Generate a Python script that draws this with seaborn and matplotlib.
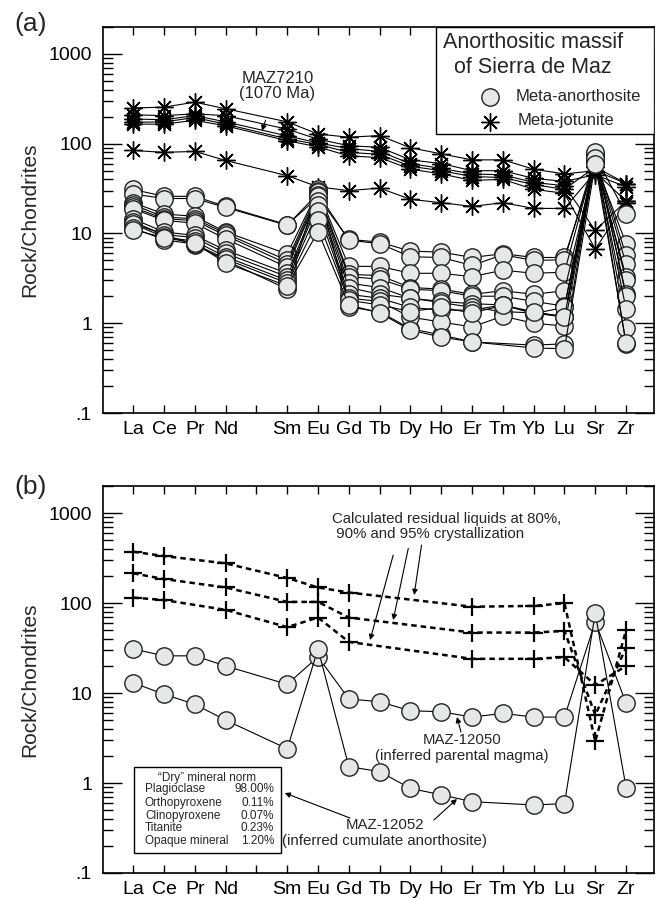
import numpy as np
import pandas as pd
import matplotlib
matplotlib.use('Agg')
import matplotlib.pyplot as plt
from matplotlib.patches import Rectangle
from matplotlib.ticker import FixedLocator, FuncFormatter, LogLocator, NullFormatter
import seaborn as sns

# x positions: Pm slot is left empty
elements = ['La', 'Ce', 'Pr', 'Nd', '', 'Sm', 'Eu', 'Gd', 'Tb', 'Dy', 'Ho', 'Er', 'Tm', 'Yb', 'Lu', 'Sr', 'Zr']
rock_elements = ['La', 'Ce', 'Pr', 'Nd', 'Sm', 'Eu', 'Gd', 'Tb', 'Dy', 'Ho', 'Er', 'Tm', 'Yb', 'Lu', 'Sr', 'Zr']
liquid_elements = ['La', 'Ce', 'Nd', 'Sm', 'Eu', 'Gd', 'Er', 'Yb', 'Lu', 'Sr', 'Zr']
nan = np.nan

# chondrite-normalised values
maz12050 = [30.9, 25.9, 25.9, 20.0, 12.5, 25.3, 8.6, 8.0, 6.35, 6.2, 5.4, 5.95, 5.4, 5.4, 62, 7.7]
maz12052 = [13.0, 9.7, 7.5, 5.0, 2.4, 31.0, 1.52, 1.34, 0.87, 0.74, 0.62, nan, 0.57, 0.59, 77, 0.89]

anorthosite = {
    'an02': [27.5, 24.5, 24.5, 19.5, 12.3, 28, 8.4, 7.7, 5.5, 5.4, 4.4, 5.8, 5.0, 5.1, 72, 16.6],
    'an03': [22.0, 16.5, 15.5, 10.4, 5.9, 30, 4.3, 4.3, 3.6, 3.6, 3.3, 3.9, 3.6, 3.7, 70, 5.7],
    'an04': [21.0, 15.2, 14.6, 10.0, 5.0, 29, 3.5, 3.4, 2.5, 2.4, 2.1, 2.3, 2.1, 2.3, 66, 4.6],
    'an05': [19.6, 14.6, 13.9, 9.5, 4.6, 27, 3.3, 3.1, 2.4, 2.3, 2.0, 2.0, 1.75, 1.55, 64, 3.3],
    'an06': [18.8, 14.0, 13.0, 8.7, 4.2, 26, 2.8, 2.5, 1.9, 1.75, 1.65, 1.6, 1.3, 1.2, 68, 3.0],
    'an07': [14.5, 10.4, 9.5, 6.5, 3.6, 23, 2.5, 2.1, 1.9, 1.7, 1.5, 1.35, 1.3, 1.17, 74, 2.1],
    'an08': [13.4, 9.7, 9.0, 6.0, 3.3, 21, 2.1, 1.9, 1.5, 1.4, 1.4, 1.6, 1.28, 1.5, 80, 2.0],
    'an09': [12.8, 9.1, 8.2, 5.5, 3.0, 18, 1.9, 1.75, 1.17, 1.03, 0.91, 1.2, 1.0, 0.93, 65, 1.45],
    'an11': [11.5, 8.5, 7.6, 5.2, 2.8, 14, 1.8, 1.6, 1.35, 1.5, 1.3, 1.58, 1.35, 1.17, 70, 0.59],
    'an12': [11.0, 9.0, 7.8, 4.7, 2.6, 10.5, 1.6, 1.3, 0.84, 0.70, 0.62, nan, 0.53, 0.52, 60, 0.6],
    'MAZ-12050': maz12050,
    'MAZ-12052': maz12052,
}

jotunite = {
    'jo1': [250, 255, 290, 245, 175, 128, 118, 123, 90, 77, 66, 66, 52, 46, 50, 36],
    'jo2': [210, 205, 215, 205, 145, 112, 95, 91, 66, 60, 50, 50, 41, 38, 45, 33],
    'jo3': [188, 185, 205, 175, 122, 102, 88, 82, 60, 53, 46, 45, 37, 34, 10.8, 23],
    'jo4': [173, 175, 195, 165, 113, 98, 80, 76, 56, 50, 43, 42, 35, 31, 55, 36],
    'jo5': [165, 165, 182, 158, 108, 92, 73, 70, 52, 46, 39, 40, 31, 28, 6.7, 22],
    'jo6': [84, 80, 82, 65, 44, 33, 30, 32, 24, 22, 20, 22, 19, 19, 48, 23],
}

# residual liquids at 95, 90 and 80 % crystallization
liquids = {
    'liq95': [372, 333, 276, 190, 149, 131, 91, 93, 99.6, 2.9, 50],
    'liq90': [214, 185, 149, 103, 103, 69, 47, 47, 49, 5.7, 32],
    'liq80': [115, 108, 84, 54, 69, 37, 24, 24, 25, 12.3, 20],
}

norm_minerals = ['Plagioclase', 'Orthopyroxene', 'Clinopyroxene', 'Titanite', 'Opaque mineral']
norm_values = ['98.00%', '0.11%', '0.07%', '0.23%', '1.20%']


def long_form(series, names):
    rows = []
    for name, vals in series.items():
        for el, v in zip(names, vals):
            if not np.isnan(v):
                rows.append((name, elements.index(el), v))
    return pd.DataFrame(rows, columns=['sample', 'pos', 'value'])


def draw(ax, df, **kw):
    sns.lineplot(data=df, x='pos', y='value', units='sample', estimator=None,
                 sort=False, ax=ax, legend=False, **kw)


sns.set_style('ticks')
plt.rcParams['font.family'] = ['Liberation Sans', 'DejaVu Sans']

circle_mk = dict(marker='o', markersize=12.5, markerfacecolor='#e6e7e7',
                 markeredgecolor='#222222', markeredgewidth=1.0)
star_mk = dict(marker=(8, 2, 0), markersize=13, markeredgecolor='black', markeredgewidth=1.0)
circle_kw = dict(color='black', linewidth=0.8, **circle_mk)
star_kw = dict(color='black', linewidth=0.8, **star_mk)
cross_kw = dict(color='black', linewidth=1.8, linestyle=(0, (2.2, 1.6)), marker='+',
                markersize=13, markeredgecolor='black', markeredgewidth=1.6)


def style_axes(ax):
    ax.set_yscale('log')
    ax.set_ylim(0.1, 2000)
    ax.set_xlim(-0.98, 16.9)
    ax.xaxis.set_major_locator(FixedLocator(range(len(elements))))
    ax.set_xticklabels(elements)
    ax.yaxis.set_major_locator(LogLocator(base=10, numticks=10))
    ax.yaxis.set_minor_locator(LogLocator(base=10, subs=np.arange(2, 10), numticks=20))
    ax.yaxis.set_major_formatter(FuncFormatter(lambda v, p: {0.1: '.1', 1: '1', 10: '10', 100: '100', 1000: '1000'}.get(round(v, 1), '')))
    ax.yaxis.set_minor_formatter(NullFormatter())
    ax.tick_params(axis='both', which='both', direction='in', top=True, right=True, width=1.0, colors='black')
    ax.tick_params(axis='x', length=6, pad=6, labelsize=14)
    ax.tick_params(axis='y', which='major', length=14, pad=8, labelsize=14)
    ax.tick_params(axis='y', which='minor', length=7)
    for s in ax.spines.values():
        s.set_linewidth(1.2)
        s.set_color('black')
    ax.set_xlabel('')
    ax.set_ylabel('Rock/Chondrites', fontsize=15)
    ax.yaxis.set_label_coords(-0.115, 0.5)


fig = plt.figure(figsize=(6.62, 9.01), dpi=100)
ax1 = fig.add_axes([0.1556, 0.5416, 0.832, 0.4286])
ax2 = fig.add_axes([0.1556, 0.0311, 0.832, 0.4295])
for ax in (ax1, ax2):
    ax.set_yscale('log')

# ---- panel (a)
df_an = long_form(anorthosite, rock_elements)
df_jo = long_form(jotunite, rock_elements)
draw(ax1, df_jo, **star_kw)
draw(ax1, df_an, **circle_kw)
style_axes(ax1)

ax1.annotate('MAZ7210\n(1070 Ma)', xy=(4.18, 139), xytext=(4.68, 437), ha='center', va='center',
             fontsize=12, linespacing=1.0,
             arrowprops=dict(arrowstyle='-|>', color='black', lw=0.8, shrinkA=12, shrinkB=0,
                             mutation_scale=8))

# legend box drawn by hand so its layout follows the original
ta = ax1.transAxes
ax1.add_patch(Rectangle((0.604, 0.723), 0.396, 0.277, transform=ta, fill=True, facecolor='white',
                        edgecolor='black', lw=1.0, zorder=5))
ax1.text(0.780, 0.9585, 'Anorthositic massif', transform=ta, ha='center', va='center', fontsize=15.5, zorder=6)
ax1.text(0.780, 0.894, 'of Sierra de Maz', transform=ta, ha='center', va='center', fontsize=15.5, zorder=6)
ax1.plot([0.702], [0.819], transform=ta, linestyle='none', zorder=6, clip_on=False, **circle_mk)
ax1.plot([0.702], [0.754], transform=ta, linestyle='none', zorder=6, clip_on=False, **star_mk)
ax1.text(0.7495, 0.819, 'Meta-anorthosite', transform=ta, ha='left', va='center', fontsize=12, zorder=6)
ax1.text(0.753, 0.757, 'Meta-jotunite', transform=ta, ha='left', va='center', fontsize=12, zorder=6)

# ---- panel (b)
df_liq = long_form(liquids, liquid_elements)
df_b = long_form({'MAZ-12050': maz12050, 'MAZ-12052': maz12052}, rock_elements)
draw(ax2, df_liq, **cross_kw)
draw(ax2, df_b, **circle_kw)
style_axes(ax2)

arrow = dict(arrowstyle='-|>', color='black', lw=0.8, shrinkA=0, shrinkB=0, mutation_scale=8)
ax2.text(6.45, 707, 'Calculated residual liquids at 80%,\n 90% and 95% crystallization',
         ha='left', va='center', fontsize=10.8, linespacing=1.05)
for tail, head in [((8.44, 341), (7.69, 38.8)), ((8.93, 405), (8.44, 64.7)), ((9.36, 441), (9.12, 123))]:
    ax2.annotate('', xy=head, xytext=tail, arrowprops=arrow)

ax2.text(10.67, 2.45, 'MAZ-12050\n(inferred parental magma)', ha='center', va='center',
         fontsize=10.8, linespacing=1.1)
ax2.annotate('', xy=(10.51, 5.41), xytext=(10.64, 3.69), arrowprops=arrow)

ax2.text(8.17, 0.278, 'MAZ-12052\n(inferred cumulate anorthosite)', ha='center', va='center',
         fontsize=10.8, linespacing=1.1)
ax2.annotate('', xy=(4.92, 0.774), xytext=(7.04, 0.408), arrowprops=arrow)
ax2.annotate('', xy=(10.51, 0.664), xytext=(9.76, 0.388), arrowprops=arrow)

# mineral norm box
ax2.add_patch(Rectangle((0.02, 0.167), 4.77, 1.51 - 0.167, fill=False, edgecolor='black', lw=1.0))
narrow = ['Liberation Sans Narrow', 'DejaVu Sans Condensed', 'Liberation Sans']
ax2.text(2.41, 1.14, '\u201cDry\u201d mineral norm', ha='center', va='center', fontsize=8.5, family=narrow)
for name, val, y in zip(norm_minerals, norm_values, [0.858, 0.6, 0.43, 0.316, 0.227]):
    ax2.text(0.38, y, name, ha='left', va='center', fontsize=8.5, family=narrow)
    ax2.text(4.57, y, val, ha='right', va='center', fontsize=8.5, family=narrow)

fig.text(0.022, 1 - 24 / 901, '(a)', ha='left', va='center', fontsize=19)
fig.text(0.022, 1 - 487 / 901, '(b)', ha='left', va='center', fontsize=19)

fig.savefig('out.png', dpi=100)
